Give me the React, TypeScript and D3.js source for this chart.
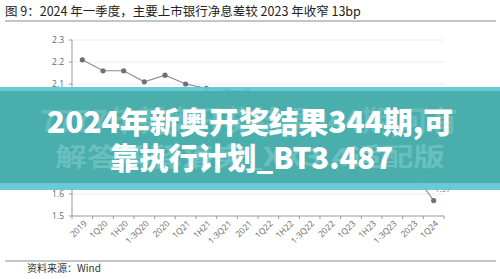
import React from "react";
import * as d3 from "d3";

const categories = ["2019","1Q20","1H20","1-3Q20","2020","1Q21","1H21","1-3Q21","2021","1Q22","1H22","1-3Q22","2022","1Q23","1H23","1-3Q23","2023","1Q24"];
const values = [2.21,2.16,2.16,2.11,2.14,2.10,2.08,2.07,2.07,2.05,2.03,2.01,1.99,1.82,1.76,1.73,1.70,1.57];
const labeledCategories = ["1Q23","1H23","2023","1Q24"];
const yTicks = [1.5,1.6,1.7,1.8,1.9,2.0,2.1,2.2,2.3];
const titleText = "图 9：2024 年一季度，主要上市银行净息差较 2023 年收窄 13bp";
const sourceText = "资料来源：Wind";
const bannerLine1 = "2024年新奥开奖结果344期,可";
const bannerLine2 = "靠执行计划_BT3.487";
const ghostLine1 = "7777年新奥开奖结果344期,可有";
const ghostLine2 = "解答解释落实_XX3.4适配版";

export default function App() {
  const W = 500, H = 279;
  const x = d3.scaleBand<string>().domain(categories).range([72, 444]);
  const y = d3.scaleLinear().domain([1.5, 2.3]).range([216, 40]);
  const pts = categories.map((c, i) => ({ c, v: values[i], px: (x(c) as number) + x.bandwidth() / 2, py: y(values[i]) }));
  const line = d3.line<any>().x(d => d.px).y(d => d.py);
  const chartFont = "'Open Sans', 'Liberation Sans', sans-serif";
  const cjk = "'Noto Sans CJK SC', sans-serif";
  return (
    <div style={{ position: "fixed", left: 0, top: 0, width: W, height: H, background: "#fff" }}>
      <svg width={W} height={H} style={{ display: "block" }}>
        <rect x={0} y={0} width={W} height={H} fill="#fff" />
        <text x={5} y={16} fontFamily={cjk} fontSize={12.5} fill="#222">{titleText}</text>
        <line x1={5} x2={496} y1={21} y2={21} stroke="#7f9096" strokeWidth={1.2} />
        {yTicks.map(t => (
          <g key={t}>
            <line x1={72} x2={444} y1={y(t)} y2={y(t)} stroke={t === 1.5 ? "#999" : "#ececec"} strokeWidth={1} />
            <line x1={69} x2={72} y1={y(t)} y2={y(t)} stroke="#999" />
            <text x={64} y={y(t)} dy="0.35em" textAnchor="end" fontFamily={chartFont} fontSize={8.5} fill="#666">{d3.format(".1f")(t)}</text>
          </g>
        ))}
        <line x1={72} x2={72} y1={40} y2={216} stroke="#999" />
        {categories.map(c => (
          <line key={"t" + c} x1={(x(c) as number)} x2={(x(c) as number)} y1={216} y2={219} stroke="#999" />
        ))}
        <line x1={444} x2={444} y1={216} y2={219} stroke="#999" />
        {categories.map(c => {
          const cx = (x(c) as number) + x.bandwidth() / 2;
          return (
            <text key={"l" + c} transform={`translate(${cx + 3},${222}) rotate(-45)`} textAnchor="end" dy="0.35em" fontFamily={chartFont} fontSize={8.5} fill="#666">{c}</text>
          );
        })}
        <path d={line(pts) as string} fill="none" stroke="#8a8d99" strokeWidth={1.1} />
        {pts.map(p => (
          <circle key={"p" + p.c} cx={p.px} cy={p.py} r={2.6} fill="#6d7080" />
        ))}
        {pts.filter(p => labeledCategories.includes(p.c)).map(p => (
          <text key={"v" + p.c} x={p.px + 9} y={p.py - 11} dy="0.35em" textAnchor="middle" fontFamily={chartFont} fontSize={8} fill="#777">{d3.format(".2f")(p.v)}</text>
        ))}
        <line x1={5} x2={496} y1={261} y2={261} stroke="#7f9096" strokeWidth={1.2} />
        <text x={27} y={272} fontFamily={cjk} fontSize={10} fill="#333">{sourceText}</text>
        <g>
          <rect x={0} y={87} width={W} height={103} fill="#5cc7d3" opacity={0.93} />
          <rect x={0} y={91} width={W} height={92} fill="#49adab" opacity={0.96} />
          <text x={249} y={122} dy="0.35em" textAnchor="middle" fontFamily={cjk} fontWeight={700} fontSize={29} fill="#7fcdca" opacity={0.5} textLength={418} lengthAdjust="spacingAndGlyphs">{ghostLine1}</text>
          <text x={250} y={157} dy="0.35em" textAnchor="middle" fontFamily={cjk} fontWeight={700} fontSize={25} fill="#7fcdca" opacity={0.6} textLength={390} lengthAdjust="spacingAndGlyphs">{ghostLine2}</text>
          <text x={250} y={122} dy="0.35em" textAnchor="middle" fontFamily={cjk} fontWeight={900} fontSize={30} fill="#ffffff" textLength={406} lengthAdjust="spacingAndGlyphs">{bannerLine1}</text>
          <text x={251.5} y={158} dy="0.35em" textAnchor="middle" fontFamily={cjk} fontWeight={900} fontSize={30} fill="#ffffff" textLength={283} lengthAdjust="spacingAndGlyphs">{bannerLine2}</text>
        </g>
      </svg>
    </div>
  );
}
